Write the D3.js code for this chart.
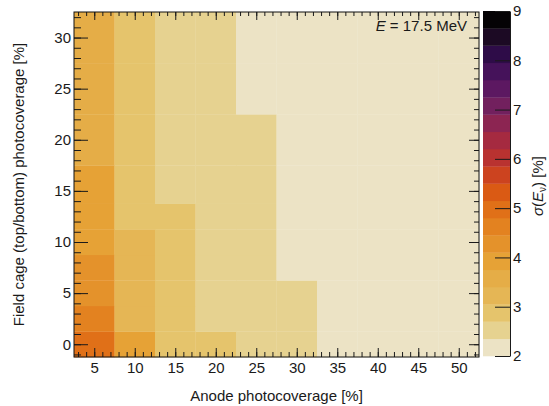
<!DOCTYPE html>
<html>
<head>
<meta charset="utf-8">
<script src="https://cdn.jsdelivr.net/npm/d3@7"></script>
<style>
    body { margin: 0; background: #fff; }
    text { font-family: "Liberation Sans", Arial, sans-serif; fill: #1a1a1a; }
</style>
</head>
<body>
<svg id="chart" width="549" height="406"></svg>
<script>
// bin centres: anode coverage (x) and field cage coverage (y), in %
const anodeCov = [5, 10, 15, 20, 25, 30, 35, 40, 45, 50];
const cageCov = [0, 2.5, 5, 7.5, 10, 12.5, 15, 20, 25, 30];

// energy resolution sigma(E) [%] per anode column, bottom row first
const sigma5  = [4.95, 4.6, 4.3, 4.25, 3.95, 3.9, 3.85, 3.6, 3.55, 3.5];
const sigma10 = [3.9, 3.3, 3.25, 3.2, 3.15, 3.0, 2.95, 2.9, 2.85, 2.8];
const sigma15 = [2.95, 2.9, 2.85, 2.8, 2.78, 2.75, 2.65, 2.6, 2.55, 2.5];
const sigma20 = [2.85, 2.65, 2.6, 2.58, 2.55, 2.5, 2.48, 2.45, 2.42, 2.4];
const sigma25 = [2.62, 2.6, 2.55, 2.52, 2.5, 2.47, 2.44, 2.4, 2.3, 2.25];
const sigma30 = [2.5, 2.45, 2.4, 2.3, 2.28, 2.25, 2.22, 2.2, 2.18, 2.15];
const sigma35 = [2.3, 2.28, 2.25, 2.22, 2.2, 2.18, 2.15, 2.12, 2.1, 2.08];
const sigma40 = [2.25, 2.22, 2.2, 2.18, 2.15, 2.12, 2.1, 2.08, 2.06, 2.05];
const sigma45 = [2.22, 2.2, 2.17, 2.15, 2.12, 2.1, 2.07, 2.05, 2.04, 2.03];
const sigma50 = [2.2, 2.18, 2.15, 2.12, 2.1, 2.08, 2.05, 2.04, 2.03, 2.02];
const sigmaCols = [sigma5, sigma10, sigma15, sigma20, sigma25, sigma30, sigma35, sigma40, sigma45, sigma50];

// colour bar range and tick labels
const zRange = [2, 9];
const zTicks = [2, 3, 4, 5, 6, 7, 8, 9];
const xTicks = [5, 10, 15, 20, 25, 30, 35, 40, 45, 50];
const yTicks = [0, 5, 10, 15, 20, 25, 30];

// 20 contour colours, low to high
const palette = ["#ece3c5", "#e6d290", "#e5c46c", "#e5b655", "#e5ad47", "#e6a236", "#e4922b",
    "#e38220", "#e07018", "#da5a14", "#cc431f", "#b93230", "#a52a40", "#8c2552", "#72205e",
    "#5c1861", "#45125a", "#2e0c48", "#1c0a24", "#050305"];

const svg = d3.select("#chart");
const pLeft = 74, pRight = 479, pTop = 12, pBottom = 357;

// x bins are 5 wide, y bins have variable width -> edges halfway between centres
const xEdges = [anodeCov[0] - 2.5].concat(anodeCov.map(v => v + 2.5));
const yEdges = [cageCov[0] - (cageCov[1] - cageCov[0]) / 2];
for (let i = 0; i < cageCov.length - 1; i++) yEdges.push((cageCov[i] + cageCov[i + 1]) / 2);
yEdges.push(cageCov[cageCov.length - 1] + (cageCov[cageCov.length - 1] - cageCov[cageCov.length - 2]) / 2);

let x = d3.scaleLinear().domain([xEdges[0], xEdges[xEdges.length - 1]]).range([pLeft, pRight]);
let y = d3.scaleLinear().domain([yEdges[0], yEdges[yEdges.length - 1]]).range([pBottom, pTop]);

let step = (zRange[1] - zRange[0]) / palette.length;
let levels = d3.range(1, palette.length).map(i => zRange[0] + i * step);
let color = d3.scaleThreshold().domain(levels).range(palette);

// cells
let cells = [];
sigmaCols.forEach((col, i) => col.forEach((v, j) => cells.push({i: i, j: j, v: v})));

svg.append("g").selectAll("rect")
    .data(cells)
    .enter()
    .append("rect")
    .attr("x", d => x(xEdges[d.i]))
    .attr("y", d => y(yEdges[d.j + 1]))
    .attr("width", d => x(xEdges[d.i + 1]) - x(xEdges[d.i]) + 0.3)
    .attr("height", d => y(yEdges[d.j]) - y(yEdges[d.j + 1]) + 0.3)
    .attr("fill", d => color(d.v));

// ticks on all four sides, pointing inwards
function drawAxis(gen, values, size, pos, labels) {
    let g = svg.append("g").attr("transform", pos)
        .call(gen.tickValues(values).tickSize(-size).tickSizeOuter(0)
            .tickFormat(labels ? d3.format("d") : ""));
    g.select(".domain").remove();
    g.selectAll("line").attr("stroke", "#1a1a1a");
    g.selectAll("text").attr("font-size", 15).attr("fill", "#1a1a1a");
    return g;
}
let xMinor = d3.range(3, 53);
let yMinor = d3.range(-1, 33);

drawAxis(d3.axisBottom(x).tickPadding(5), xTicks, 9, `translate(0,${pBottom})`, true);
drawAxis(d3.axisBottom(x), xMinor, 5, `translate(0,${pBottom})`, false);
drawAxis(d3.axisTop(x), xTicks, 8, `translate(0,${pTop})`, false);
drawAxis(d3.axisTop(x), xMinor, 4, `translate(0,${pTop})`, false);
drawAxis(d3.axisLeft(y).tickPadding(3), yTicks, 14, `translate(${pLeft},0)`, true);
drawAxis(d3.axisLeft(y), yMinor, 7, `translate(${pLeft},0)`, false);
drawAxis(d3.axisRight(y), yTicks, 10, `translate(${pRight},0)`, false);
drawAxis(d3.axisRight(y), yMinor, 5, `translate(${pRight},0)`, false);

// frame
svg.append("rect")
    .attr("x", pLeft).attr("y", pTop)
    .attr("width", pRight - pLeft).attr("height", pBottom - pTop)
    .attr("fill", "none").attr("stroke", "#111").attr("stroke-width", 1);

// axis titles
svg.append("text")
    .attr("x", (pLeft + pRight) / 2).attr("y", 401)
    .attr("text-anchor", "middle").attr("font-size", 15)
    .text("Anode photocoverage [%]");

svg.append("text")
    .attr("transform", `translate(24,${(pTop + pBottom) / 2}) rotate(-90)`)
    .attr("text-anchor", "middle").attr("font-size", 15)
    .text("Field cage (top/bottom) photocoverage [%]");

// energy label
let eLabel = svg.append("text")
    .attr("x", 467).attr("y", 31)
    .attr("text-anchor", "end").attr("font-size", 15);
eLabel.append("tspan").attr("font-style", "italic").text("E");
eLabel.append("tspan").text(" = 17.5 MeV");

// colour bar
const cbLeft = 483, cbRight = 510;
let z = d3.scaleLinear().domain(zRange).range([356, 11]);
let bands = palette.map((c, i) => ({lo: zRange[0] + i * step, hi: zRange[0] + (i + 1) * step, c: c}));

svg.append("g").selectAll("rect")
    .data(bands)
    .enter()
    .append("rect")
    .attr("x", cbLeft)
    .attr("y", d => z(d.hi))
    .attr("width", cbRight - cbLeft)
    .attr("height", d => z(d.lo) - z(d.hi) + 0.3)
    .attr("fill", d => d.c);

let zAxis = svg.append("g")
    .attr("transform", `translate(${cbRight},0)`)
    .call(d3.axisRight(z).tickValues(zTicks).tickFormat(d3.format("d"))
        .tickSize(-15).tickSizeOuter(0).tickPadding(3));
zAxis.select(".domain").attr("stroke", "#1a1a1a");
zAxis.selectAll("line").attr("stroke", "#1a1a1a");
zAxis.selectAll("text").attr("font-size", 15).attr("fill", "#1a1a1a");

let zTitle = svg.append("text")
    .attr("transform", "translate(543,186) rotate(-90)")
    .attr("text-anchor", "middle").attr("font-size", 15);
zTitle.append("tspan").attr("font-style", "italic").text("σ");
zTitle.append("tspan").text("(");
zTitle.append("tspan").attr("font-style", "italic").text("E");
zTitle.append("tspan").attr("font-size", 10).attr("dy", 3).text("ν");
zTitle.append("tspan").attr("dy", -3).text(") [%]");
</script>
</body>
</html>
